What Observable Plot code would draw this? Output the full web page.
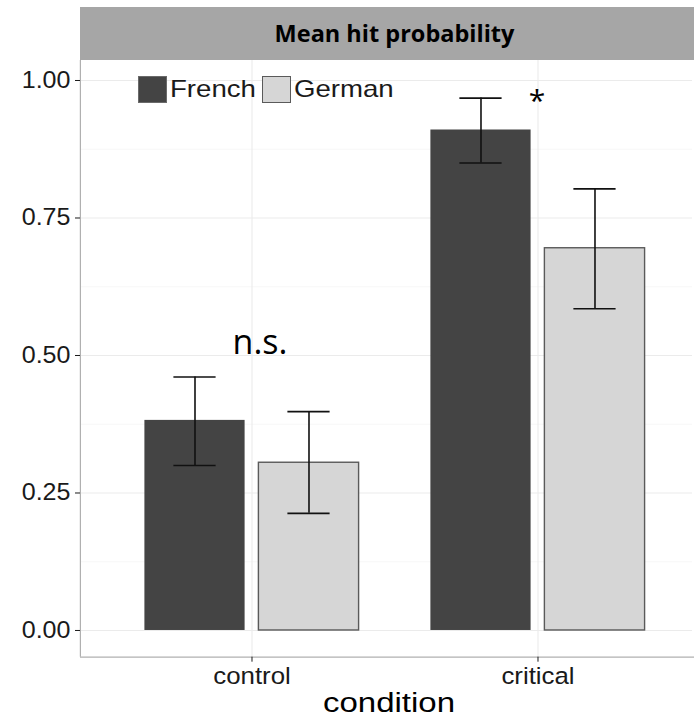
<!DOCTYPE html>
<html>
<head>
<meta charset="utf-8">
<script src="https://cdn.jsdelivr.net/npm/d3@7"></script>
<script src="https://cdn.jsdelivr.net/npm/@observablehq/plot@0.6"></script>
<style>
  html, body { margin: 0; padding: 0; background: #fff; overflow: hidden; }
  #wrap { position: relative; width: 694px; height: 717px; overflow: hidden; font-family: "Liberation Sans", Arial, sans-serif; }
  #strip { position: absolute; left: 80px; top: 7px; width: 629px; height: 53px; background: #a6a6a6; }
  #strip span { position: absolute; left: 50%; top: 50%; transform: translate(-50%, -52%); font-family: "Open Sans", sans-serif; font-weight: bold; font-size: 23.5px; color: #000; white-space: nowrap; }
  #chart { position: absolute; left: 0; top: 60px; width: 710px; }
  #edge { position: absolute; left: 692px; top: 61px; width: 2px; height: 594px; background: #fff; }
  .leg-sq { position: absolute; top: 76px; width: 27px; height: 25px; }
  .leg-tx { position: absolute; top: 75px; line-height: 28px; font-size: 24px; color: #1a1a1a; transform: scaleX(1.15); transform-origin: left center; white-space: nowrap; }
  #xlabel { position: absolute; left: 389px; top: 686px; font-size: 27.5px; color: #000; transform: translateX(-50%) scaleX(1.2); white-space: nowrap; line-height: 34px; }
</style>
</head>
<body>
<div id="wrap">
  <div id="strip"><span>Mean hit probability</span></div>
  <div id="chart"></div>
  <div id="edge"></div>
  <div id="legend"></div>
  <div id="xlabel">condition</div>
</div>
<script>
// ---- data ----
const conditions = ["control", "critical"];
const languages = ["French", "German"];
const frenchMean = [0.382, 0.910];
const frenchLow  = [0.300, 0.850];
const frenchHigh = [0.461, 0.968];
const germanMean = [0.305, 0.695];
const germanLow  = [0.213, 0.585];
const germanHigh = [0.398, 0.803];
const yTicks = [0, 0.25, 0.5, 0.75, 1];
const yMinorTicks = [0.125, 0.375, 0.625, 0.875];
const noteConditions = ["control", "critical"];
const noteLabels = ["n.s.", "*"];
const noteY = [0.522, 0.962];
const fillColors = ["#444444", "#d6d6d6"];

const french = conditions.map((c, i) => ({condition: c, language: "French", mean: frenchMean[i], lo: frenchLow[i], hi: frenchHigh[i]}));
const german = conditions.map((c, i) => ({condition: c, language: "German", mean: germanMean[i], lo: germanLow[i], hi: germanHigh[i]}));
const notes = noteLabels.map((l, i) => ({condition: noteConditions[i], label: l, y: noteY[i]}));

// ---- layout (panel continues past the right edge of the window, as in the cropped reference) ----
const W = 709.2, H = 657;
const mL = 80, mR = 0, mT = 0, mB = 60.3;
const padO = 0.2, padI = 0.2;
const step = (W - mR - mL) / (conditions.length - padI + 2 * padO);
const bw = step * (1 - padI);
const dodge = 57, barW = 100, capW = 42;
const inL = bw / 2 - dodge - barW / 2;
const inR = bw - inL - barW;
const capIn = (bw - capW) / 2;
const yDomain = [-0.04855, 1.03636];
const leftEdge = -(padO + (1 - padI) / 2) * step;

const chart = Plot.plot({
  width: W, height: H,
  marginLeft: mL, marginRight: mR, marginTop: mT, marginBottom: mB,
  style: {fontFamily: "Liberation Sans, Arial, sans-serif", background: "transparent", maxWidth: "none"},
  x: {domain: conditions, paddingInner: padI, paddingOuter: padO},
  y: {domain: yDomain},
  color: {domain: languages, range: fillColors},
  marks: [
    Plot.gridY({ticks: yMinorTicks, stroke: "#f3f3f3", strokeOpacity: 1, strokeWidth: 0.7}),
    Plot.gridY({ticks: yTicks, stroke: "#ebebeb", strokeOpacity: 1, strokeWidth: 1.1}),
    Plot.gridX({stroke: "#ebebeb", strokeOpacity: 1, strokeWidth: 1.1}),
    Plot.ruleY([yDomain[0]], {stroke: "#b0b0b0", strokeWidth: 1.2}),
    Plot.ruleX([conditions[0]], {x: d => d, dx: leftEdge, stroke: "#b0b0b0", strokeWidth: 1.2}),
    Plot.barY(french, {x: "condition", y: "mean", fill: "language", insetLeft: inL, insetRight: inR}),
    Plot.barY(german, {x: "condition", y: "mean", fill: "language", stroke: "#5a5a5a", strokeWidth: 1.4, insetLeft: inR, insetRight: inL}),
    Plot.ruleX(french, {x: "condition", y1: "lo", y2: "hi", dx: -dodge, stroke: "#111", strokeWidth: 1.6}),
    Plot.ruleX(german, {x: "condition", y1: "lo", y2: "hi", dx: dodge, stroke: "#111", strokeWidth: 1.6}),
    Plot.tickY(french, {x: "condition", y: "lo", dx: -dodge, insetLeft: capIn, insetRight: capIn, stroke: "#111", strokeWidth: 1.6}),
    Plot.tickY(french, {x: "condition", y: "hi", dx: -dodge, insetLeft: capIn, insetRight: capIn, stroke: "#111", strokeWidth: 1.6}),
    Plot.tickY(german, {x: "condition", y: "lo", dx: dodge, insetLeft: capIn, insetRight: capIn, stroke: "#111", strokeWidth: 1.6}),
    Plot.tickY(german, {x: "condition", y: "hi", dx: dodge, insetLeft: capIn, insetRight: capIn, stroke: "#111", strokeWidth: 1.6}),
    Plot.text(notes.filter(d => d.label !== "*"), {x: "condition", y: "y", text: "label", dx: 8, fontSize: 34, fill: "#000", fontFamily: "Open Sans, sans-serif", lineAnchor: "middle"}),
    Plot.text(notes.filter(d => d.label === "*"), {x: "condition", y: "y", text: "label", dx: -1, fontSize: 30, fill: "#000", fontFamily: "Open Sans, sans-serif", lineAnchor: "middle"}),
    Plot.axisY({ticks: yTicks, tickFormat: d3.format(".2f"), tickSize: 5, tickPadding: 5, fontSize: 23, color: "#1a1a1a", label: null}),
    Plot.axisX({tickSize: 5, tickPadding: 5, fontSize: 23.5, color: "#1a1a1a", label: null})
  ]
});
document.getElementById("chart").appendChild(chart);

// the reference's lettering is slightly widened: stretch axis labels around their anchors
function stretchText(sel, sx) {
  chart.querySelectorAll(sel).forEach(t => {
    const tr = t.getAttribute("transform");
    if (tr && tr.includes("translate")) {
      t.setAttribute("transform", tr + ` scale(${sx},1)`);
    } else {
      const x = +(t.getAttribute("x") || 0);
      t.setAttribute("transform", `translate(${x},0) scale(${sx},1) translate(${-x},0)`);
    }
  });
}
stretchText('g[aria-label="y-axis tick label"] text', 1.09);
stretchText('g[aria-label="x-axis tick label"] text', 1.1);

// legend inside the panel
const legend = document.getElementById("legend");
const legLeft = [138, 262];
languages.forEach((lang, i) => {
  const sq = document.createElement("div");
  sq.className = "leg-sq";
  sq.style.left = legLeft[i] + "px";
  sq.style.background = fillColors[i];
  sq.style.border = i === 0 ? "1px solid #6a6a6a" : "1px solid #5a5a5a";
  legend.appendChild(sq);
  const tx = document.createElement("div");
  tx.className = "leg-tx";
  tx.style.left = (legLeft[i] + 32) + "px";
  tx.textContent = lang;
  legend.appendChild(tx);
});
</script>
</body>
</html>
